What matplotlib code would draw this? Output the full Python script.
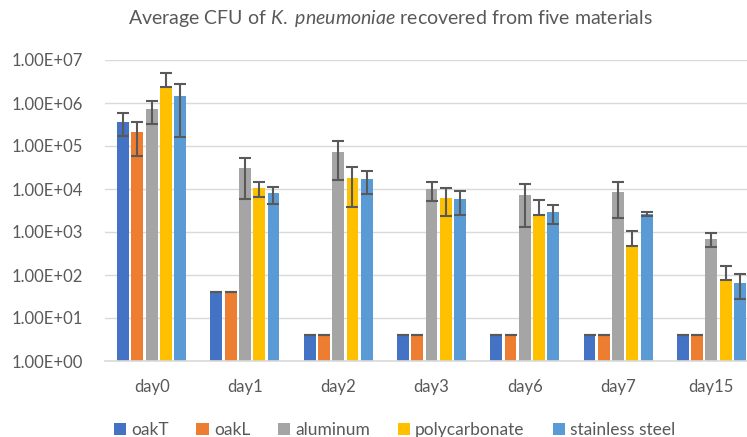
import numpy as np
import matplotlib.pyplot as plt
from matplotlib.ticker import FixedLocator
###################################################################
days = ["day0", "day1", "day2", "day3", "day6", "day7", "day15"]
materials = ["oakT", "oakL", "aluminum", "polycarbonate", "stainless steel"]
colors = ["#4472C4", "#ED7D31", "#A5A5A5", "#FFC000", "#5B9BD5"]

oakT = [3.7e5, 41, 4.1, 4.1, 4.1, 4.1, 4.1]
oakL = [2.1e5, 41, 4.1, 4.1, 4.1, 4.1, 4.1]
aluminum = [7.2e5, 3.0e4, 7.4e4, 9.8e3, 7.2e3, 8.4e3, 6.9e2]
polycarbonate = [2.35e6, 1.04e4, 1.78e4, 6.3e3, 2.5e3, 4.8e2, 76]
stainless = [1.43e6, 7.9e3, 1.68e4, 5.75e3, 2.9e3, 2.6e3, 66]

oakT_sd = [2.0e5, 0, 0, 0, 0, 0, 0]
oakL_sd = [1.5e5, 0, 0, 0, 0, 0, 0]
aluminum_sd = [4.0e5, 2.4e4, 5.8e4, 4.6e3, 5.9e3, 6.3e3, 2.5e2]
polycarbonate_sd = [2.65e6, 3.8e3, 1.4e4, 4.0e3, 3.0e3, 5.7e2, 89]
stainless_sd = [1.27e6, 3.3e3, 9.0e3, 3.2e3, 1.4e3, 2.5e2, 38]

yticks = [1e0, 1e1, 1e2, 1e3, 1e4, 1e5, 1e6, 1e7]
###################################################################
txt = "#595959"
plt.rcParams['font.family'] = ['Lato', 'DejaVu Sans']
plt.rcParams['mathtext.fontset'] = 'custom'
plt.rcParams['mathtext.rm'] = 'Lato'
plt.rcParams['mathtext.it'] = 'Lato:italic'

fig = plt.figure(figsize=(7.47, 4.37), dpi=100)
# the chart in the reference is cut off on the right, so the axes run past the figure edge
ax = fig.add_axes([105/747, 1-361/437, 653/747, 301/437])

series = [oakT, oakL, aluminum, polycarbonate, stainless]
sds = [oakT_sd, oakL_sd, aluminum_sd, polycarbonate_sd, stainless_sd]
x = np.arange(len(days))
step = 0.153
width = 0.128
for i, (vals, sd) in enumerate(zip(series, sds)):
    vals = np.array(vals)
    sd = np.array(sd)
    # lower error bar is not drawn by Excel when it would go below zero
    lower = np.where(sd >= vals, 0, sd)
    pos = x + (i - 2) * step
    ax.bar(pos, vals, width, color=colors[i], label=materials[i], zorder=2)
    ax.errorbar(pos, vals, yerr=[lower, sd], fmt='none', ecolor="#595959",
                elinewidth=1.5, capsize=4, capthick=1.5, zorder=3)

ax.set_yscale('log')
ax.set_ylim(1, 1e7)
ax.set_xlim(-0.5, len(days) - 0.5)
ax.yaxis.set_major_locator(FixedLocator(yticks))
ax.yaxis.set_minor_locator(FixedLocator([]))
ax.set_yticklabels(["%.2E" % v for v in yticks])
ax.set_xticks(x)
ax.set_xticklabels(days)
ax.tick_params(axis='both', length=0, labelsize=12, colors=txt)
ax.tick_params(axis='y', pad=16)
ax.tick_params(axis='x', pad=13)
ax.grid(axis='y', color="#D9D9D9", lw=1, zorder=0)
ax.set_axisbelow(True)
for s in ["top", "right", "left"]:
    ax.spines[s].set_visible(False)
ax.spines["bottom"].set_color("#D9D9D9")
ax.spines["bottom"].set_linewidth(1.2)

fig.text(0.522, 0.957, "Average CFU of $\\it{K.\\ pneumoniae}$ recovered from five materials",
         ha='center', va='center', fontsize=14, color=txt)

fig.legend(loc='center', bbox_to_anchor=(0.528, 0.016), ncol=5, frameon=False,
           fontsize=12.5, labelcolor=txt, handlelength=0.7, handleheight=0.7,
           handletextpad=0.3, columnspacing=1.6)

fig.savefig("out.png", dpi=100)
